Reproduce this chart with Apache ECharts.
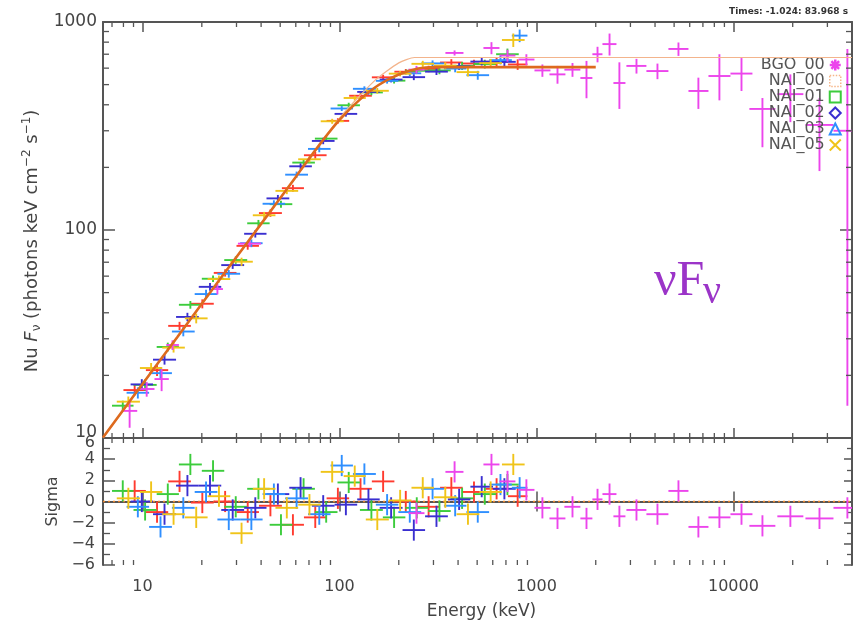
<!DOCTYPE html>
<html><head><meta charset="utf-8">
<script src="https://cdn.jsdelivr.net/npm/echarts@6/dist/echarts.min.js"></script>
<style>html,body{margin:0;padding:0;background:#fff}#c{width:865px;height:625px}</style>
</head><body><div id="c"></div>
<script>
// ---------------- data ----------------
const energyTickLabels = [10, 100, 1000, 10000];
const fluxTickLabels = [10, 100, 1000];
const sigmaTickLabels = [-6, -4, -2, 0, 2, 4, 6];
const energyMinorTicks = [7,8,9,20,30,40,50,60,70,80,90,200,300,400,500,600,700,800,900,2000,3000,4000,5000,6000,7000,8000,9000,20000,30000];
const fluxMinorTicks = [20,30,40,50,60,70,80,90,200,300,400,500,600,700,800,900];

const detectorNames = ['BGO_00', 'NAI_00', 'NAI_01', 'NAI_02', 'NAI_03', 'NAI_05'];

// NaI detectors: bin edges (keV), nuFnu, nuFnu error, residual (sigma)
const nai00Edges = [8, 10.4, 13.5, 17.6, 23, 30, 39, 51, 66, 86, 112, 146, 190, 248, 324, 422, 550, 716, 900];
const nai00Flux = [17.0, 21.2, 34.6, 44.2, 62.2, 83.9, 120.6, 158.9, 228.8, 334.7, 442, 542, 576.7, 595, 638.6, 631.6, 643.4, 625];
const nai00FluxErr = [0.96, 1.35, 1.58, 2.2, 2.5, 3.5, 4.9, 6.0, 8.5, 10, 12.8, 15.4, 17.3, 21.2, 24.3, 27.3, 30.4, 36.4];
const nai00Sigma = [1.0, -1.0, 1.9, -0.1, 0, -1.0, -0.4, -2.2, -1.5, 0.3, 1.2, 1.9, 0, -0.5, 1.3, 0.9, 1.2, 0.5];

const nai01Edges = [7, 9.0, 11.8, 15.3, 20, 26, 34, 44.2, 57.6, 75, 97.7, 127, 166, 216, 282, 367, 479, 624, 813];
const nai01Flux = [14.3, 18.0, 27.4, 43.7, 58.3, 71.7, 107.7, 133.1, 210.9, 275, 397.8, 458.6, 522.4, 582.9, 585.1, 615.2, 628.2, 700];
const nai01FluxErr = [0.81, 1.13, 1.33, 1.86, 2.09, 2.93, 4.1, 5.05, 7.1, 8.5, 11.3, 14.1, 16.4, 20.8, 24.3, 27.3, 30.4, 45];
const nai01Sigma = [1.0, -0.8, 0.7, 3.5, 2.9, -0.5, 1.2, -2.2, 1.2, -1.0, 1.8, -0.8, -1.5, -0.6, -0.9, 0.3, 0.7, 1.6];

const nai02Edges = [8.7, 11.3, 14.8, 19.3, 25.1, 32.8, 42.6, 55.6, 72.4, 94.4, 123, 160, 209, 272, 355, 462, 602, 785];
const nai02Flux = [18.1, 23.8, 38.2, 53.3, 67.8, 95.9, 141.9, 202.4, 268, 361.6, 461.2, 528.6, 543.1, 577.3, 611.9, 645.2, 643.4];
const nai02FluxErr = [1.08, 1.27, 1.78, 2.25, 2.8, 3.93, 5.5, 6.8, 9.5, 10.9, 13.8, 16.1, 17.7, 21.2, 24.3, 27.3, 30.4];
const nai02Sigma = [0, -1.2, 1.5, 1.5, -0.8, -0.6, 0.7, 1.3, -0.4, -0.3, 0.2, -0.6, -2.7, -1.4, 0.2, 1.4, 1.2];

const nai03Edges = [8.3, 10.8, 14.1, 18.4, 24, 31.3, 40.7, 53, 69.2, 90.1, 117, 153, 199, 260, 339, 441, 575, 750, 900];
const nai03Flux = [16.5, 20.5, 32.5, 49.2, 61.6, 86.4, 133.7, 184.5, 245.4, 383.8, 477.3, 521.3, 566.8, 632.5, 597.3, 555, 655.6, 860];
const nai03FluxErr = [1.02, 1.43, 1.68, 2.35, 2.64, 3.7, 5.2, 6.4, 9.0, 10.4, 13.3, 15.8, 17.5, 21.2, 24.3, 27.3, 30.4, 60];
const nai03Sigma = [-0.5, -2.4, -0.6, 0.9, -1.7, -1.7, 0.7, 0.3, -1.2, 3.4, 2.6, -0.3, -1.0, 1.2, -0.4, -1.0, 1.6, 1.3];

const nai05Edges = [7.4, 9.7, 12.6, 16.4, 21.4, 27.9, 36.3, 47.3, 61.7, 80.3, 105, 136, 178, 232, 302, 393, 513, 668, 871];
const nai05Flux = [14.95, 21.7, 27.2, 37.6, 58.1, 70.4, 117.7, 154.2, 218.8, 333.2, 431.2, 466.9, 564.5, 629.4, 616.7, 574.2, 634.3, 819.5];
const nai05FluxErr = [0.88, 1.24, 1.45, 2.03, 2.28, 3.2, 4.5, 5.5, 7.7, 9.2, 12.1, 14.8, 16.9, 21.1, 24.3, 27.3, 30.4, 61];
const nai05Sigma = [0.3, 0.9, -1.2, -1.5, 0.5, -3.0, 1.2, -0.6, -0.3, 2.8, 2.4, -1.7, 0.1, 1.3, 0.4, -1.2, 0.9, 3.5];

// BGO detector: energy, energy range, nuFnu with range, residual
const bgoE = [8.6, 10.5, 12.5, 14.2, 24, 35, 246, 384, 591, 713, 889, 1072, 1279, 1524, 1795, 2042, 2350, 2637, 3220, 4115, 5260, 6640, 8490, 10990, 14040, 19460, 27350, 37900];
const bgoELo = [7.9, 9.6, 11.5, 13.2, 22.5, 30.5, 224, 345, 538, 649, 811, 977, 1164, 1386, 1671, 1923, 2163, 2459, 2862, 3616, 4677, 5912, 7470, 9660, 12050, 16710, 23210, 32210];
const bgoEHi = [9.4, 11.5, 13.6, 15.3, 25.6, 40, 270, 426, 649, 782, 977, 1178, 1403, 1671, 1923, 2163, 2548, 2830, 3616, 4677, 5912, 7470, 9660, 12490, 16330, 22650, 32210, 40000];
const bgoFlux = [13.5, 17.2, 19.2, 28, 52, 86, 590, 710, 750, 690, 660, 585, 560, 590, 538, 700, 783, 509, 615, 581, 742, 466, 550, 565, 382, 450, 320, 300];
const bgoFluxLo = [11.2, 15.8, 16.8, 26.5, 49, 83, 565, 690, 700, 645, 620, 545, 505, 545, 430, 640, 690, 382, 565, 531, 687, 382, 420, 466, 250, 330, 192, 14.3];
const bgoFluxHi = [15.0, 18.6, 21.4, 29.5, 55, 89, 615, 730, 800, 735, 700, 625, 615, 635, 650, 760, 880, 640, 665, 631, 797, 540, 700, 671, 431, 560, 431, 742];
const bgoSigma = [null, null, null, null, null, null, -1.1, 2.8, 3.5, 1.9, 1.1, -0.6, -1.6, -0.5, -1.6, 0.2, 0.7, -1.4, -0.8, -1.2, 1.0, -2.4, -1.5, -1.2, -2.3, -1.4, -1.6, -0.6];

// fitted model (thick) and second model (thin)
const modelE = [6.3, 8, 10, 15, 20, 30, 40, 60, 79.4, 100, 126, 158, 200, 251, 302, 400, 1000, 2000];
const modelF = [10.06, 13.67, 18.2, 30.5, 44.2, 74.2, 107, 180, 258, 338, 421, 498, 559, 597, 607, 607, 607, 607];
const model2E = [6.3, 30, 60, 100, 150, 200, 240, 40000];
const model2F = [10, 74, 180, 345, 520, 636, 675, 675];
const zeroE = [6.3, 40000];
const zeroSigma = [0, 0];

// ---------------- styling ----------------
const colors = {
  BGO_00: '#ec45ec', NAI_00: '#ff3b2f', NAI_01: '#3ccc3c',
  NAI_02: '#3a2fd0', NAI_03: '#2f8fff', NAI_05: '#f0c419'
};
const axisColor = '#555';
const FONT = 'DejaVu Sans';
const X_MIN = 6.3, X_MAX = 40000;

function isPow10(v) { const l = Math.log10(v); return Math.abs(l - Math.round(l)) < 1e-6; }

function naiMain(edges, flux, err) {
  return flux.map((f, i) => { const lo = edges[i], hi = edges[i + 1];
    return [Math.sqrt(lo * hi), f, lo, hi, f - err[i], f + err[i]]; });
}
function naiResid(edges, sig) {
  return sig.map((s, i) => { const lo = edges[i], hi = edges[i + 1];
    return [Math.sqrt(lo * hi), s, lo, hi, s - 1, s + 1]; });
}
const bgoMain = bgoE.map((e, i) => [e, bgoFlux[i], bgoELo[i], bgoEHi[i], bgoFluxLo[i], bgoFluxHi[i]]);
const bgoResid = bgoE.map((e, i) => bgoSigma[i] === null ? null :
  [e, bgoSigma[i], bgoELo[i], bgoEHi[i], bgoSigma[i] - 1, bgoSigma[i] + 1]).filter(d => d);

function crossRenderer(color, lw) {
  return function (params, api) {
    const e = api.value(0), v = api.value(1);
    const l = api.coord([api.value(2), v]), r = api.coord([api.value(3), v]);
    const t = api.coord([e, api.value(5)]), b = api.coord([e, api.value(4)]);
    return { type: 'group', children: [
      { type: 'line', shape: { x1: l[0], y1: l[1], x2: r[0], y2: r[1] }, style: { stroke: color, lineWidth: lw } },
      { type: 'line', shape: { x1: t[0], y1: t[1], x2: b[0], y2: b[1] }, style: { stroke: color, lineWidth: lw } }
    ] };
  };
}
function crossSeries(name, data, gridIdx) {
  return { type: 'custom', name: name, xAxisIndex: gridIdx * 2, yAxisIndex: gridIdx * 2,
    data: data, encode: { x: 0, y: 1 }, renderItem: crossRenderer(colors[name], 1.9),
    itemStyle: { color: colors[name] }, silent: true, z: 3 };
}
function xMinorSeries(gridIdx, yRef, len) {
  return { type: 'custom', xAxisIndex: gridIdx * 2, yAxisIndex: gridIdx * 2, silent: true, z: 5,
    data: energyMinorTicks.map(v => [v, yRef]), encode: { x: 0, y: 1 },
    renderItem: function (params, api) {
      const cs = params.coordSys; const x = api.coord([api.value(0), yRef])[0];
      return { type: 'group', children: [
        { type: 'line', shape: { x1: x, y1: cs.y + cs.height, x2: x, y2: cs.y + cs.height - len }, style: { stroke: axisColor, lineWidth: 1.3 } },
        { type: 'line', shape: { x1: x, y1: cs.y, x2: x, y2: cs.y + len }, style: { stroke: axisColor, lineWidth: 1.3 } }
      ] };
    } };
}
function yMinorSeries(len) {
  return { type: 'custom', xAxisIndex: 0, yAxisIndex: 0, silent: true, z: 5,
    data: fluxMinorTicks.map(v => [100, v]), encode: { x: 0, y: 1 },
    renderItem: function (params, api) {
      const cs = params.coordSys; const y = api.coord([100, api.value(1)])[1];
      return { type: 'group', children: [
        { type: 'line', shape: { x1: cs.x, y1: y, x2: cs.x + len, y2: y }, style: { stroke: axisColor, lineWidth: 1.3 } },
        { type: 'line', shape: { x1: cs.x + cs.width, y1: y, x2: cs.x + cs.width - len, y2: y }, style: { stroke: axisColor, lineWidth: 1.3 } }
      ] };
    } };
}

const lineStyleAxis = { color: axisColor, width: 2 };
function xAxis(gridIdx, pos, labels) {
  return { type: 'log', gridIndex: gridIdx, position: pos, min: X_MIN, max: X_MAX, logBase: 10,
    axisLine: { show: true, lineStyle: lineStyleAxis },
    axisTick: { show: true, inside: true, length: 10, lineStyle: { color: axisColor, width: 1.5 } },
    splitLine: { show: false },
    axisLabel: labels ? { show: true, fontFamily: FONT, fontSize: 16, color: '#444', margin: 14,
      formatter: v => (isPow10(v) && energyTickLabels.indexOf(Math.round(v)) >= 0) ? String(Math.round(v)) : '' } : { show: false },
    name: labels ? 'Energy (keV)' : '', nameLocation: 'middle', nameGap: 38,
    nameTextStyle: { fontFamily: FONT, fontSize: 17, color: '#444', padding: [0, 0, 0, 8] } };
}

const option = {
  backgroundColor: '#fff',
  animation: false,
  grid: [
    { left: 103, top: 22, width: 749, height: 416 },
    { left: 103, top: 438, width: 749, height: 127 }
  ],
  xAxis: [ xAxis(0, 'bottom', false), xAxis(0, 'top', false), xAxis(1, 'bottom', true), xAxis(1, 'top', false) ],
  yAxis: [
    { type: 'log', gridIndex: 0, position: 'left', min: 10, max: 1000, logBase: 10,
      axisLine: { show: true, lineStyle: lineStyleAxis },
      axisTick: { show: true, inside: true, length: 12, lineStyle: { color: axisColor, width: 1.5 } },
      splitLine: { show: false },
      axisLabel: { fontFamily: FONT, fontSize: 17, color: '#444', margin: 6,
        formatter: v => { const r = Math.round(v); if (fluxTickLabels.indexOf(r) < 0 || !isPow10(v)) return '';
          return r === 10 ? '{lo|10}' : String(r); },
        rich: { lo: { fontFamily: FONT, fontSize: 17, color: '#444', padding: [0, 0, 11, 0] } } },
      name: 'Nu {i|F}{sub|ν} (photons keV cm{sup|−2} s{sup|−1})', nameLocation: 'middle', nameRotate: 90, nameGap: 60,
      nameTextStyle: { fontFamily: FONT, fontSize: 18, color: '#444', lineHeight: 22, padding: [0, 22, 0, 0],
        rich: { i: { fontFamily: FONT, fontSize: 18, fontStyle: 'italic', color: '#444', lineHeight: 22 },
                sub: { fontFamily: FONT, fontSize: 12, color: '#444', verticalAlign: 'bottom', lineHeight: 22 },
                sup: { fontFamily: FONT, fontSize: 12, color: '#444', verticalAlign: 'top', lineHeight: 22 } } } },
    { type: 'log', gridIndex: 0, position: 'right', min: 10, max: 1000, logBase: 10,
      axisLine: { show: true, lineStyle: lineStyleAxis },
      axisTick: { show: true, inside: true, length: 12, lineStyle: { color: axisColor, width: 1.5 } },
      splitLine: { show: false }, axisLabel: { show: false } },
    { type: 'value', gridIndex: 1, position: 'left', min: -6, max: 6, interval: 2,
      axisLine: { show: true, lineStyle: lineStyleAxis },
      axisTick: { show: true, inside: true, length: 12, lineStyle: { color: axisColor, width: 1.5 } },
      minorTick: { show: true, splitNumber: 2, length: 7, lineStyle: { color: axisColor, width: 1.3 } },
      splitLine: { show: false },
      axisLabel: { fontFamily: FONT, fontSize: 16, color: '#444', margin: 8,
        formatter: v => { if (sigmaTickLabels.indexOf(v) < 0) return '';
          if (v === 6) return '{hi|6}'; return v < 0 ? '−' + (-v) : String(v); },
        rich: { hi: { fontFamily: FONT, fontSize: 16, color: '#444', padding: [9, 0, 0, 0] } } },
      name: 'Sigma', nameLocation: 'middle', nameRotate: 90, nameGap: 41,
      nameTextStyle: { fontFamily: FONT, fontSize: 16, color: '#444' } },
    { type: 'value', gridIndex: 1, position: 'right', min: -6, max: 6, interval: 2,
      axisLine: { show: true, lineStyle: lineStyleAxis },
      axisTick: { show: true, inside: true, length: 8, lineStyle: { color: axisColor, width: 1.5 } },
      minorTick: { show: true, splitNumber: 2, length: 5, lineStyle: { color: axisColor, width: 1.3 } },
      splitLine: { show: false }, axisLabel: { show: false } }
  ],
  legend: {
    orient: 'vertical', right: 18, top: 52, align: 'right', itemGap: 0, itemWidth: 11, itemHeight: 11,
    selectedMode: false, textStyle: { fontFamily: FONT, fontSize: 16, lineHeight: 15, color: '#555' },
    data: [
      { name: 'BGO_00', icon: 'path://M5,0L5,10M0,5L10,5M1.5,1.5L8.5,8.5M8.5,1.5L1.5,8.5', itemStyle: { color: colors.BGO_00, borderColor: colors.BGO_00, borderWidth: 2.5 } },
      { name: 'NAI_00', icon: 'rect', itemStyle: { color: 'rgba(0,0,0,0)', borderColor: '#f6b689', borderWidth: 1.5, borderType: 'dotted' } },
      { name: 'NAI_01', icon: 'rect', itemStyle: { color: 'rgba(0,0,0,0)', borderColor: colors.NAI_01, borderWidth: 2 } },
      { name: 'NAI_02', icon: 'diamond', itemStyle: { color: 'rgba(0,0,0,0)', borderColor: colors.NAI_02, borderWidth: 2 } },
      { name: 'NAI_03', icon: 'triangle', itemStyle: { color: 'rgba(0,0,0,0)', borderColor: colors.NAI_03, borderWidth: 2 } },
      { name: 'NAI_05', icon: 'path://M0,0L10,10M10,0L0,10', itemStyle: { color: colors.NAI_05, borderColor: colors.NAI_05, borderWidth: 2 } }
    ]
  },
  graphic: [
    { type: 'text', right: 17, top: 7, style: { text: 'Times: -1.024: 83.968 s', font: 'bold 9px "DejaVu Sans"', fill: '#333' } },
    { type: 'text', left: 654, top: 257, style: { text: 'νF', font: '50px "Liberation Serif"', fill: '#9b34c8' } },
    { type: 'text', left: 703, top: 272, style: { text: 'ν', font: '40px "Liberation Serif"', fill: '#9b34c8' } }
  ],
  series: [
    crossSeries('NAI_00', naiMain(nai00Edges, nai00Flux, nai00FluxErr), 0),
    crossSeries('NAI_01', naiMain(nai01Edges, nai01Flux, nai01FluxErr), 0),
    crossSeries('NAI_02', naiMain(nai02Edges, nai02Flux, nai02FluxErr), 0),
    crossSeries('NAI_03', naiMain(nai03Edges, nai03Flux, nai03FluxErr), 0),
    crossSeries('NAI_05', naiMain(nai05Edges, nai05Flux, nai05FluxErr), 0),
    crossSeries('BGO_00', bgoMain, 0),
    crossSeries('NAI_00', naiResid(nai00Edges, nai00Sigma), 1),
    crossSeries('NAI_01', naiResid(nai01Edges, nai01Sigma), 1),
    crossSeries('NAI_02', naiResid(nai02Edges, nai02Sigma), 1),
    crossSeries('NAI_03', naiResid(nai03Edges, nai03Sigma), 1),
    crossSeries('NAI_05', naiResid(nai05Edges, nai05Sigma), 1),
    crossSeries('BGO_00', bgoResid, 1),
    { type: 'line', name: 'model2', xAxisIndex: 0, yAxisIndex: 0, data: model2E.map((e, i) => [e, model2F[i]]),
      showSymbol: false, smooth: 0.2, lineStyle: { color: '#f3b48c', width: 1.2 }, z: 4, silent: true },
    { type: 'line', name: 'model', xAxisIndex: 0, yAxisIndex: 0, data: modelE.map((e, i) => [e, modelF[i]]),
      showSymbol: false, smooth: 0.3, lineStyle: { color: '#dd6a1e', width: 2.6 }, z: 4, silent: true },
    { type: 'line', name: 'zero', xAxisIndex: 2, yAxisIndex: 2, data: zeroE.map((e, i) => [e, zeroSigma[i]]),
      showSymbol: false, lineStyle: { color: '#e8842c', width: 1.3, type: [2, 3] }, z: 2, silent: true },
    xMinorSeries(0, 100, 5), xMinorSeries(1, 0, 5), yMinorSeries(6)
  ]
};
const chart = echarts.init(document.getElementById('c'), null, { renderer: 'canvas' });
chart.setOption(option);
</script></body></html>
